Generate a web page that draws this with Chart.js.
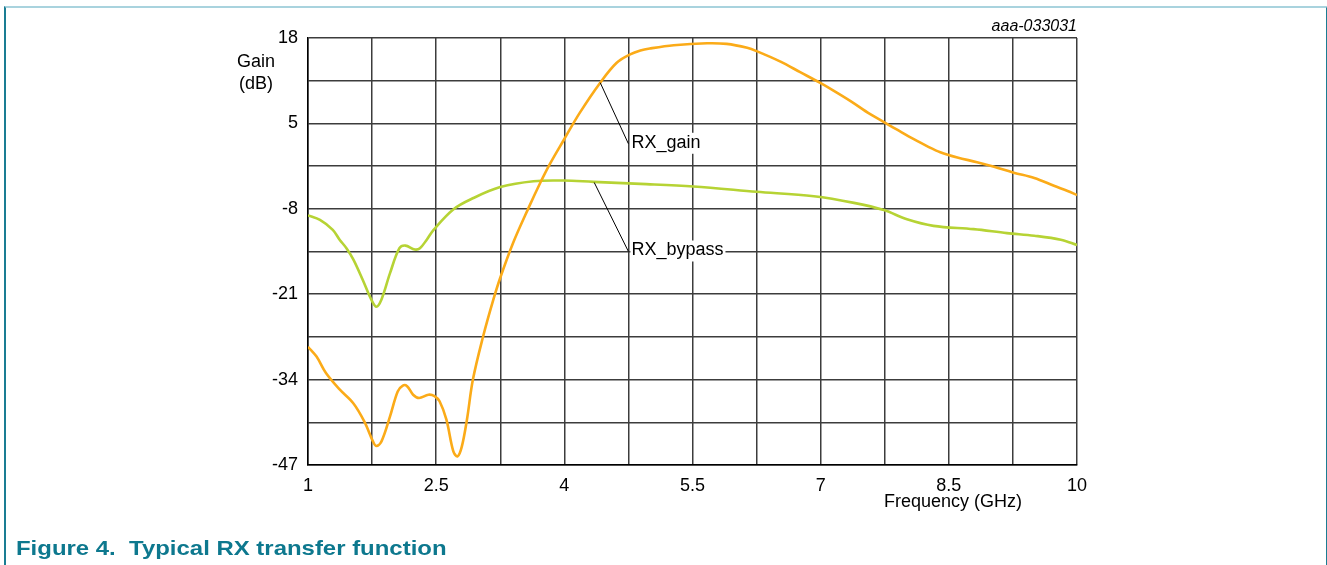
<!DOCTYPE html>
<html>
<head>
<meta charset="utf-8">
<script src="https://cdn.jsdelivr.net/npm/chart.js@4.4.0/dist/chart.umd.min.js"></script>
<style>
  body { margin: 0; background: #fff; }
  #wrap { position: relative; width: 1327px; height: 565px; overflow: hidden; }
  #frame { position: absolute; left: 4px; top: 6px; width: 1320px; height: 570px;
           border-top: 2px solid #a9d3de; border-left: 2px solid #1a7d93; border-right: 2px solid #1a7d93; }
  #chart { position: absolute; left: 0; top: 0; }
  #caption { position: absolute; left: 16px; top: 536px; font: bold 21px "Liberation Sans", Arial, sans-serif;
             color: #0d788e; white-space: pre; transform: scaleX(1.14); transform-origin: left top; }
</style>
</head>
<body>
<div id="wrap">
  <div id="frame"></div>
  <canvas id="chart" width="1327" height="565"></canvas>
  <div id="caption">Figure 4.  Typical RX transfer function</div>
</div>
<script>
'use strict';

// RX_gain curve (frequency in GHz, gain in dB)
var gainFreq = [1.0, 1.1, 1.21, 1.37, 1.53, 1.66, 1.76, 1.80, 1.86, 1.96, 2.05, 2.11, 2.16, 2.23, 2.30, 2.41, 2.48, 2.54, 2.62, 2.70,
                2.75, 2.80, 2.86, 2.93, 3.05, 3.17, 3.25, 3.40, 3.58, 3.72, 3.83, 3.99, 4.18, 4.42, 4.61, 4.77, 4.89, 5.0, 5.28,
                5.67, 5.90, 6.14, 6.25, 6.53, 6.76, 6.99, 7.15, 7.35, 7.58, 7.78, 7.90, 8.09, 8.25, 8.40, 8.60, 8.83, 9.03, 9.26, 9.50,
                9.73, 9.89, 10.0];
var gainDb = [-29.0, -30.5, -33.0, -35.5, -37.6, -40.4, -43.4, -44.1, -43.4, -39.6, -35.8, -34.9, -35.0, -36.3, -36.8, -36.3, -36.5, -37.3, -40.1, -44.9,
              -45.7, -44.2, -40.1, -34.0, -27.4, -21.8, -18.5, -13.2, -7.9, -4.0, -1.2, 2.4, 6.6, 11.2, 14.2, 15.5, 16.1, 16.4, 16.9,
              17.2, 17.1, 16.5, 16.0, 14.4, 12.8, 11.2, 10.0, 8.4, 6.4, 4.9, 4.0, 2.6, 1.5, 0.6, -0.2, -0.9, -1.6, -2.5, -3.3,
              -4.5, -5.3, -5.9];

// RX_bypass curve
var bypassFreq = [1.0, 1.14, 1.29, 1.37, 1.45, 1.53, 1.64, 1.74, 1.80, 1.86, 1.96, 2.07, 2.14, 2.25, 2.31, 2.39, 2.47, 2.70, 2.93, 3.25,
                  3.64, 3.99, 4.34, 4.89, 5.51, 6.25, 6.92, 7.39, 7.74, 8.01, 8.32, 8.79, 9.18, 9.50, 9.81, 10.0];
var bypassDb = [-9.0, -9.7, -11.2, -12.7, -14.0, -15.7, -18.8, -21.8, -22.9, -21.8, -17.8, -14.0, -13.6, -14.2, -14.0, -12.7, -11.2, -8.1, -6.4, -4.7,
                -3.8, -3.7, -3.9, -4.2, -4.6, -5.4, -6.1, -7.1, -8.2, -9.6, -10.6, -11.1, -11.7, -12.1, -12.7, -13.5];

var seriesNames = ['RX_gain', 'RX_bypass'];
var xGridLines = [1, 1.75, 2.5, 3.25, 4, 4.75, 5.5, 6.25, 7, 7.75, 8.5, 9.25, 10];
var xTickLabels = [1, 2.5, 4, 5.5, 7, 8.5, 10];
var yGridLines = [-47, -40.5, -34, -27.5, -21, -14.5, -8, -1.5, 5, 11.5, 18];
var yTickLabels = [-47, -34, -21, -8, 5, 18];

var FONT = '"Liberation Sans", Arial, sans-serif';

function toPoints(xs, ys) {
    return xs.map(function (v, i) { return { x: v, y: ys[i] }; });
}

// leader lines + labels, axis titles, figure id
var decorations = {
    id: 'decorations',
    afterDatasetsDraw: function (chart, args, opts) {
        var ctx = chart.ctx, xs = chart.scales.x, ys = chart.scales.y;
        ctx.save();
        ctx.font = '18px ' + FONT;
        ctx.textBaseline = 'middle';
        opts.leaders.forEach(function (l) {
            var x0 = xs.getPixelForValue(l.from[0]), y0 = ys.getPixelForValue(l.from[1]);
            var x1 = xs.getPixelForValue(l.to[0]), y1 = ys.getPixelForValue(l.to[1]);
            var w = ctx.measureText(l.text).width;
            ctx.fillStyle = '#fff';
            ctx.fillRect(x1 + 2, y1 - 11, w + 3, 21);
            ctx.strokeStyle = '#000';
            ctx.lineWidth = 1;
            ctx.beginPath();
            ctx.moveTo(x0, y0);
            ctx.lineTo(x1, y1);
            ctx.stroke();
            ctx.fillStyle = '#000';
            ctx.textAlign = 'left';
            ctx.fillText(l.text, x1 + 3, y1 - 1);
        });
        ctx.textAlign = 'center';
        ctx.fillText('Gain', 256, 62);
        ctx.fillText('(dB)', 256, 84);
        ctx.fillText('Frequency (GHz)', 953, 502);
        ctx.font = 'italic 16px ' + FONT;
        ctx.textAlign = 'right';
        ctx.fillText('aaa-033031', 1077, 27);
        ctx.restore();
    }
};

var chart = new Chart(document.getElementById('chart').getContext('2d'), {
    type: 'line',
    data: {
        datasets: [
            {
                label: seriesNames[0],
                data: toPoints(gainFreq, gainDb),
                borderColor: '#fbab18',
                borderWidth: 2.6,
                pointRadius: 0,
                tension: 0.35
            },
            {
                label: seriesNames[1],
                data: toPoints(bypassFreq, bypassDb),
                borderColor: '#b6d334',
                borderWidth: 2.6,
                pointRadius: 0,
                tension: 0.35
            }
        ]
    },
    options: {
        responsive: false,
        animation: false,
        layout: { padding: { top: 38, right: 250, bottom: 0, left: 0 } },
        plugins: {
            legend: { display: false },
            tooltip: { enabled: false },
            decorations: {
                leaders: [
                    { text: seriesNames[0], from: [4.42, 11.2], to: [4.75, 1.9] },
                    { text: seriesNames[1], from: [4.35, -4.0], to: [4.75, -14.5] }
                ]
            }
        },
        scales: {
            x: {
                type: 'linear',
                min: 1, max: 10,
                afterBuildTicks: function (s) { s.ticks = xGridLines.map(function (v) { return { value: v }; }); },
                afterFit: function (s) { s.height = 100; },
                grid: { color: '#3c3c3c', lineWidth: 1.5, drawTicks: false },
                border: { color: '#000', width: 1.5 },
                ticks: {
                    autoSkip: false, maxRotation: 0, padding: 10, color: '#000',
                    font: { size: 18, family: FONT },
                    callback: function (v) { return xTickLabels.indexOf(v) >= 0 ? String(v) : ''; }
                }
            },
            y: {
                type: 'linear',
                min: -47, max: 18,
                afterBuildTicks: function (s) { s.ticks = yGridLines.map(function (v) { return { value: v }; }); },
                afterFit: function (s) { s.width = 308; },
                grid: { color: '#3c3c3c', lineWidth: 1.5, drawTicks: false },
                border: { color: '#000', width: 1.5 },
                ticks: {
                    autoSkip: false, padding: 10, color: '#000',
                    font: { size: 18, family: FONT },
                    callback: function (v) { return yTickLabels.indexOf(v) >= 0 ? String(v) : ''; }
                }
            }
        }
    },
    plugins: [decorations]
});
</script>
</body>
</html>
